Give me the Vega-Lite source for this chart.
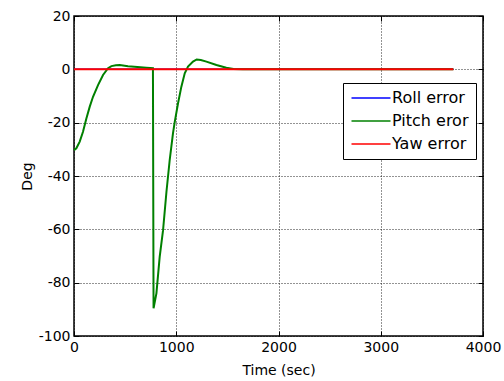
{
  "$schema": "https://vega.github.io/schema/vega-lite/v6.json",
  "width": 409,
  "height": 320,
  "autosize": {"type": "none"},
  "padding": {"left": 74, "top": 16, "right": 21, "bottom": 45},
  "background": "white",
  "config": {
    "font": "DejaVu Sans",
    "view": {"stroke": "black", "strokeWidth": 1.5},
    "axis": {
      "domain": false,
      "labelFontSize": 14,
      "labelColor": "black",
      "labelExpr": "'' + datum.value",
      "titleFontSize": 14,
      "titleFontWeight": "normal",
      "titleColor": "black",
      "tickColor": "black",
      "tickSize": -5,
      "labelPadding": 9,
      "grid": true,
      "gridColor": "black",
      "gridDash": [1, 2],
      "gridOpacity": 0.85,
      "labelFlush": false
    }
  },
  "data": {
    "values": [
      {"series": "Roll error", "t": 0, "v": 0},
      {"series": "Roll error", "t": 3710, "v": 0},
      {"series": "Pitch eror", "t": 0, "v": -30.3},
      {"series": "Pitch eror", "t": 23, "v": -29.6},
      {"series": "Pitch eror", "t": 56, "v": -27.1},
      {"series": "Pitch eror", "t": 88, "v": -23.4},
      {"series": "Pitch eror", "t": 121, "v": -18.4},
      {"series": "Pitch eror", "t": 154, "v": -14},
      {"series": "Pitch eror", "t": 186, "v": -10.3},
      {"series": "Pitch eror", "t": 235, "v": -5.9},
      {"series": "Pitch eror", "t": 284, "v": -2.1},
      {"series": "Pitch eror", "t": 333, "v": 0.4},
      {"series": "Pitch eror", "t": 366, "v": 1.2},
      {"series": "Pitch eror", "t": 410, "v": 1.5},
      {"series": "Pitch eror", "t": 447, "v": 1.6},
      {"series": "Pitch eror", "t": 528, "v": 1.2},
      {"series": "Pitch eror", "t": 620, "v": 0.9},
      {"series": "Pitch eror", "t": 708, "v": 0.6},
      {"series": "Pitch eror", "t": 772, "v": 0.4},
      {"series": "Pitch eror", "t": 778, "v": -89.6},
      {"series": "Pitch eror", "t": 806, "v": -84},
      {"series": "Pitch eror", "t": 838, "v": -70.3},
      {"series": "Pitch eror", "t": 871, "v": -60.3},
      {"series": "Pitch eror", "t": 904, "v": -46},
      {"series": "Pitch eror", "t": 936, "v": -34},
      {"series": "Pitch eror", "t": 968, "v": -24},
      {"series": "Pitch eror", "t": 985, "v": -19.8},
      {"series": "Pitch eror", "t": 1017, "v": -12.8},
      {"series": "Pitch eror", "t": 1050, "v": -6.5},
      {"series": "Pitch eror", "t": 1083, "v": -1.5},
      {"series": "Pitch eror", "t": 1115, "v": 1},
      {"series": "Pitch eror", "t": 1164, "v": 2.9},
      {"series": "Pitch eror", "t": 1200, "v": 3.7},
      {"series": "Pitch eror", "t": 1240, "v": 3.5},
      {"series": "Pitch eror", "t": 1295, "v": 2.9},
      {"series": "Pitch eror", "t": 1393, "v": 1.6},
      {"series": "Pitch eror", "t": 1490, "v": 0.6},
      {"series": "Pitch eror", "t": 1560, "v": 0.1},
      {"series": "Pitch eror", "t": 1650, "v": 0},
      {"series": "Pitch eror", "t": 3710, "v": 0},
      {"series": "Yaw error", "t": 0, "v": 0},
      {"series": "Yaw error", "t": 3710, "v": 0}
    ]
  },
  "resolve": {"axis": {"x": "independent", "y": "independent"}},
  "layer": [
    {
      "mark": {"type": "line", "opacity": 0},
      "encoding": {
        "x": {
          "field": "t", "type": "quantitative",
          "scale": {"domain": [0, 4000], "nice": false},
          "axis": {"title": "Time (sec)", "values": [0, 1000, 2000, 3000, 4000], "titlePadding": 9}
        },
        "y": {
          "field": "v", "type": "quantitative",
          "scale": {"domain": [-100, 20], "nice": false},
          "axis": {"title": "Deg", "values": [-100, -80, -60, -40, -20, 0, 20], "titlePadding": 4}
        },
        "color": {
          "field": "series", "type": "nominal",
          "scale": {"domain": ["Roll error", "Pitch eror", "Yaw error"], "range": ["#0000ff", "#008000", "#ff0000"]},
          "legend": {
            "title": null,
            "orient": "none",
            "legendX": 269,
            "legendY": 67,
            "padding": 7,
            "strokeColor": "black",
            "fillColor": "white",
            "symbolType": "M-3,0H3",
            "symbolSize": 169,
            "symbolOffset": 13,
            "symbolStrokeWidth": 1.5,
            "symbolOpacity": 1,
            "labelFontSize": 16,
            "labelColor": "black",
            "labelOffset": 13,
            "rowPadding": 7
          }
        }
      }
    },
    {
      "transform": [{"filter": "datum.series === 'Roll error'"}],
      "mark": {"type": "line", "strokeWidth": 1.5, "color": "#0000ff"},
      "encoding": {
        "x": {"field": "t", "type": "quantitative", "axis": null},
        "y": {"field": "v", "type": "quantitative", "axis": null}
      }
    },
    {
      "transform": [{"filter": "datum.series === 'Pitch eror'"}],
      "mark": {"type": "line", "strokeWidth": 2, "color": "#008000"},
      "encoding": {
        "x": {"field": "t", "type": "quantitative", "axis": null},
        "y": {"field": "v", "type": "quantitative", "axis": null}
      }
    },
    {
      "transform": [{"filter": "datum.series === 'Yaw error'"}],
      "mark": {"type": "line", "strokeWidth": 2, "color": "#ff0000"},
      "encoding": {
        "x": {
          "field": "t", "type": "quantitative",
          "axis": {"orient": "top", "title": null, "labels": false, "grid": false, "values": [0, 1000, 2000, 3000, 4000]}
        },
        "y": {
          "field": "v", "type": "quantitative",
          "axis": {"orient": "right", "title": null, "labels": false, "grid": false, "values": [-100, -80, -60, -40, -20, 0, 20]}
        }
      }
    }
  ]
}
